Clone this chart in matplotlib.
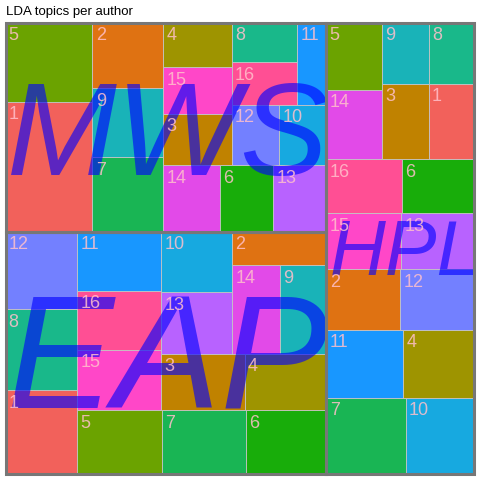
import numpy as np
import matplotlib
matplotlib.use("Agg")
import matplotlib.pyplot as plt
from matplotlib.patches import Rectangle
from matplotlib.font_manager import FontProperties

# ---------------- data ----------------
authors = ["EAP", "MWS", "HPL"]
topics = [str(i) for i in range(1, 17)]
eap_values = [6010, 3156, 4690, 4588, 5376, 5147, 5351, 5816, 4139, 4271, 4950, 5586, 4377, 4245, 5064, 4990]
mws_values = [11266, 4659, 3488, 3064, 6916, 3564, 5253, 2611, 4885, 2832, 2409, 2856, 3538, 3751, 3194, 2801]
hpl_values = [3411, 4480, 3539, 4786, 3726, 3904, 6066, 2786, 2891, 5195, 5190, 4474, 4071, 3825, 4189, 4061]
values_by_author = {"EAP": eap_values, "MWS": mws_values, "HPL": hpl_values}

topic_colors = ["#F2615B", "#DF7212", "#C08200", "#9E9400", "#6BA300", "#18AD0A",
                "#19B554", "#19B88A", "#19B3B8", "#17A9E0", "#1897FF", "#7380FF",
                "#B862FF", "#E24AE8", "#FF47C8", "#FF4F94"]

DPI = 100
W = H = 480


def worst(row, side):
    s = sum(row)
    return max(max(side * side * r / (s * s), (s * s) / (side * side * r)) for r in row)


def squarify(items, x, y, w, h):
    """Squarified treemap, starting bottom-left. Returns key -> (x, y, w, h)."""
    total = sum(v for _, v in items)
    items = sorted(items, key=lambda kv: -kv[1])
    items = [(k, v * w * h / total) for k, v in items]
    out = {}
    while items:
        side = min(w, h)
        row = [items[0]]
        i = 1
        while i < len(items) and worst([v for _, v in row] + [items[i][1]], side) <= worst([v for _, v in row], side):
            row.append(items[i])
            i += 1
        items = items[i:]
        s = sum(v for _, v in row)
        if w >= h:
            cw = s / h
            yy = y
            for k, v in row:
                rh = v / cw
                out[k] = (x, yy, cw, rh)
                yy += rh
            x += cw
            w -= cw
        else:
            rh = s / w
            xx = x
            for k, v in row:
                rw = v / rh
                out[k] = (xx, y, rw, rh)
                xx += rw
            y += rh
            h -= rh
    return out


def ink_extent(s, fp, fs):
    """Ink box of text relative to its (left, baseline) anchor, in pixels (y up)."""
    f = plt.figure(figsize=(W / DPI, H / DPI), dpi=DPI)
    f.text(20 / W, 240 / H, s, fontproperties=fp, fontsize=fs, ha="left", va="baseline", color="black")
    f.canvas.draw()
    buf = np.asarray(f.canvas.buffer_rgba())
    plt.close(f)
    ys, xs = np.nonzero(buf[:, :, 0] < 128)
    x0, x1 = xs.min(), xs.max() + 1
    ytop, ybot = ys.min(), ys.max() + 1
    return x0 - 20, x1 - 20, (H - ybot) - 240, (H - ytop) - 240


fig = plt.figure(figsize=(W / DPI, H / DPI), dpi=DPI)
left_px, right_px, top_px, bottom_px = 5.5, 474.0, 22.5, 474.0
ax = fig.add_axes([left_px / W, 1 - bottom_px / H, (right_px - left_px) / W, (bottom_px - top_px) / H])
ax.set_xlim(0, 1)
ax.set_ylim(0, 1)
ax.axis("off")

group_rects = squarify([(a, sum(values_by_author[a])) for a in authors], 0, 0, 1, 1)

label_fs = 18 * 72 / DPI
for a in authors:
    gx, gy, gw, gh = group_rects[a]
    tiles = squarify(list(zip(range(16), values_by_author[a])), gx, gy, gw, gh)
    for t, (x, y, w, h) in tiles.items():
        ax.add_patch(Rectangle((x, y), w, h, facecolor=topic_colors[t],
                               edgecolor="#c4c4c4", linewidth=0.6, zorder=1))
        ax.annotate(topics[t], xy=(x, y + h), xytext=(2.3, -3.2), textcoords="offset points",
                    ha="left", va="top", fontsize=label_fs, color="#FFC0CB", alpha=0.85,
                    family="Liberation Sans", zorder=4)

for a in authors:
    gx, gy, gw, gh = group_rects[a]
    ax.add_patch(Rectangle((gx, gy), gw, gh, fill=False, edgecolor="#777777",
                           linewidth=2.2, clip_on=False, zorder=3))

# grown group labels (fit to group width, centred)
fp = FontProperties(family="Liberation Sans", style="italic")
inv = ax.transData.inverted()
for a in authors:
    gx, gy, gw, gh = group_rects[a]
    (x0, y0) = ax.transData.transform((gx, gy))
    (x1, y1) = ax.transData.transform((gx + gw, gy + gh))
    dx0, dx1, dy0, dy1 = ink_extent(a, fp, 50)
    target_w = (x1 - x0) - 6
    k = target_w / (dx1 - dx0)
    cx = (x0 + x1) / 2 + 2.5
    cy = (y0 + y1) / 2 - 1
    axp = cx - (dx0 + dx1) / 2 * k
    ayp = cy - (dy0 + dy1) / 2 * k
    dxd, dyd = inv.transform((axp, ayp))
    ax.text(dxd, dyd, a, fontproperties=fp, fontsize=50 * k, color="blue",
            alpha=0.62, ha="left", va="baseline", zorder=2, clip_on=False)

fig.text(6 / W, 1 - 15 / H, "LDA topics per author", fontsize=13.2 * 72 / DPI,
         family="Liberation Sans", ha="left", va="baseline", color="black")

fig.savefig("out.png", dpi=DPI)
